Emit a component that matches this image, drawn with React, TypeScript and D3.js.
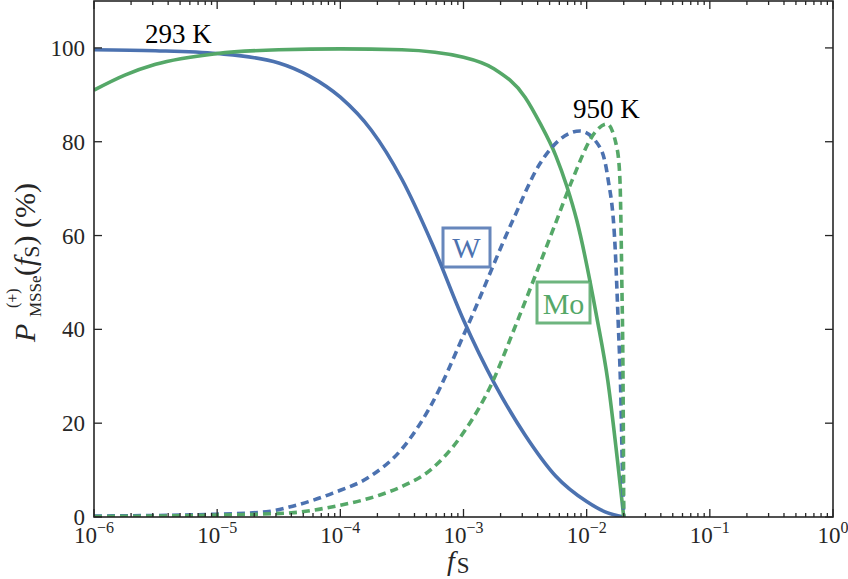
import React from 'react';
import * as d3 from 'd3';

// f_S values and P (%)
const wSolidX = [1e-6, 3.16e-6, 1e-5, 3.16e-5, 5.62e-5, 1e-4, 1.78e-4, 3.16e-4, 5.62e-4, 1e-3, 1.78e-3, 3.16e-3, 5.62e-3, 1e-2, 1.41e-2, 2e-2];
const wSolidY = [99.6, 99.4, 98.8, 96.8, 94, 89.5, 82.5, 72, 58, 42, 28.5, 17.5, 8.7, 3.3, 1.1, 0];

const moSolidX = [1e-6, 1.78e-6, 3.16e-6, 1e-5, 3.16e-5, 1e-4, 3.16e-4, 1e-3, 1.78e-3, 3.16e-3, 4.17e-3, 5.62e-3, 6.9e-3, 8.32e-3, 1.21e-2, 1.486e-2, 1.78e-2, 2e-2];
const moSolidY = [91, 94.2, 96.5, 98.8, 99.6, 99.8, 99.6, 98, 95.5, 89.5, 84, 77, 70.5, 63.2, 42.5, 29, 12, 0];

const wDashedX = [1e-6, 1e-5, 2.5e-5, 4.1e-5, 8.7e-5, 1.78e-4, 3.16e-4, 5.37e-4, 1.067e-3, 2.51e-3, 4.17e-3, 8.81e-3, 1.288e-2, 1.486e-2, 1.698e-2, 1.8e-2, 1.897e-2, 1.95e-2, 2e-2];
const wDashedY = [0.2, 0.6, 1.1, 2.3, 5.1, 8.8, 14.5, 23.5, 40.4, 63.2, 75.3, 82.3, 78.7, 72.3, 58, 42, 25, 10, 0];

const moDashedX = [1e-6, 1e-5, 4e-5, 8.7e-5, 2.1e-4, 3.16e-4, 5.37e-4, 1e-3, 1.7e-3, 2.61e-3, 5.7e-3, 7.6e-3, 1.17e-2, 1.46e-2, 1.76e-2, 1.86e-2, 1.93e-2, 1.975e-2, 2e-2];
const moDashedY = [0.1, 0.4, 0.9, 2.2, 4.7, 6.5, 10, 18, 28.5, 40.4, 63.2, 71.7, 82, 83.8, 78.7, 72.3, 50, 28, 0];

const xExponents = [-6, -5, -4, -3, -2, -1, 0];
const yTicks = [0, 20, 40, 60, 80, 100];

const BLUE = '#4C72B0';
const GREEN = '#55A868';
const INK = '#262626';
const FONT = '"Liberation Serif", "Times New Roman", serif';

const W = 848, H = 579;
const left = 94, right = 833, top = 1, bottom = 517;

const App = () => {
  const x = d3.scaleLog().domain([1e-6, 1]).range([left, right]);
  const y = d3.scaleLinear().domain([0, 110]).range([bottom, top]);

  const line = d3.line<[number, number]>()
    .x(d => x(d[0]))
    .y(d => y(d[1]))
    .curve(d3.curveMonotoneX);

  const zip = (xs: number[], ys: number[]) => xs.map((v, i) => [v, ys[i]] as [number, number]);

  const series = [
    { d: zip(wSolidX, wSolidY), color: BLUE, dash: null },
    { d: zip(moSolidX, moSolidY), color: GREEN, dash: null },
    { d: zip(wDashedX, wDashedY), color: BLUE, dash: '8,5' },
    { d: zip(moDashedX, moDashedY), color: GREEN, dash: '8,5' },
  ];

  const minor: number[] = [];
  for (let k = -6; k < 0; k++) {
    for (let m = 2; m <= 9; m++) minor.push(m * Math.pow(10, k));
  }

  return (
    <svg width={W} height={H} style={{ position: 'absolute', left: 0, top: 0, background: '#fff' }}
      fontFamily={FONT}>
      <defs>
        <clipPath id="plot">
          <rect x={left} y={top} width={right - left} height={bottom - top} />
        </clipPath>
      </defs>

      {/* curves */}
      <g clipPath="url(#plot)">
        {series.map((s, i) => (
          <path key={i} d={line(s.d) || ''} fill="none" stroke={s.color} strokeWidth={3.6}
            strokeDasharray={s.dash || undefined} />
        ))}
      </g>

      {/* ticks */}
      <g stroke={INK} strokeWidth={1.3}>
        {xExponents.map(e => {
          const px = x(Math.pow(10, e));
          return (
            <g key={'M' + e}>
              <line x1={px} x2={px} y1={bottom} y2={bottom - 8} />
              <line x1={px} x2={px} y1={top} y2={top + 8} />
            </g>
          );
        })}
        {minor.map((v, i) => {
          const px = x(v);
          return (
            <g key={'m' + i}>
              <line x1={px} x2={px} y1={bottom} y2={bottom - 4} />
              <line x1={px} x2={px} y1={top} y2={top + 4} />
            </g>
          );
        })}
        {yTicks.map(t => (
          <g key={'y' + t}>
            <line x1={left} x2={left + 8} y1={y(t)} y2={y(t)} />
            <line x1={right} x2={right - 8} y1={y(t)} y2={y(t)} />
          </g>
        ))}
      </g>

      {/* frame */}
      <rect x={left} y={top} width={right - left} height={bottom - top} fill="none" stroke={INK} strokeWidth={1.6} />

      {/* tick labels */}
      {xExponents.map(e => (
        <text key={'xl' + e} x={x(Math.pow(10, e))} y={543} textAnchor="middle" fontSize={23} fill={INK}>
          10<tspan fontSize={16} dy={-10}>{e < 0 ? '\u2212' + (-e) : String(e)}</tspan>
        </text>
      ))}
      {yTicks.map(t => (
        <text key={'yl' + t} x={85} y={y(t)} dy="0.35em" textAnchor="end" fontSize={23} fill={INK}>{t}</text>
      ))}

      {/* x label */}
      <text x={447} y={570} fontSize={28} fill={INK}>
        <tspan fontStyle="italic">f</tspan>
        <tspan fontSize={23} dy={3} dx={2}>S</tspan>
      </text>

      {/* y label */}
      <g transform="translate(35,342) rotate(-90)" fill={INK}>
        <text x={0} y={0} fontSize={30} fontStyle="italic">P</text>
        <text x={34} y={-17} fontSize={16}>(+)</text>
        <text x={25} y={6} fontSize={17}>MSSe</text>
        <text x={66} y={0} fontSize={30}>
          (<tspan fontStyle="italic">f</tspan><tspan fontSize={22} dy={4}>S</tspan><tspan dy={-4}>) (%)</tspan>
        </text>
      </g>

      {/* annotations */}
      <text x={145} y={43} fontSize={27} fill="#000">293 K</text>
      <text x={573} y={118} fontSize={27} fill="#000">950 K</text>

      <rect x={443} y={228} width={47} height={39} fill="#fff" stroke={BLUE} strokeWidth={3} strokeOpacity={0.85} />
      <text x={466.5} y={258} textAnchor="middle" fontSize={30} fill={BLUE}>W</text>

      <rect x={537} y={282} width={53} height={41} fill="#fff" stroke={GREEN} strokeWidth={3} strokeOpacity={0.85} />
      <text x={563.5} y={314} textAnchor="middle" fontSize={30} fill={GREEN}>Mo</text>
    </svg>
  );
};

export default App;
